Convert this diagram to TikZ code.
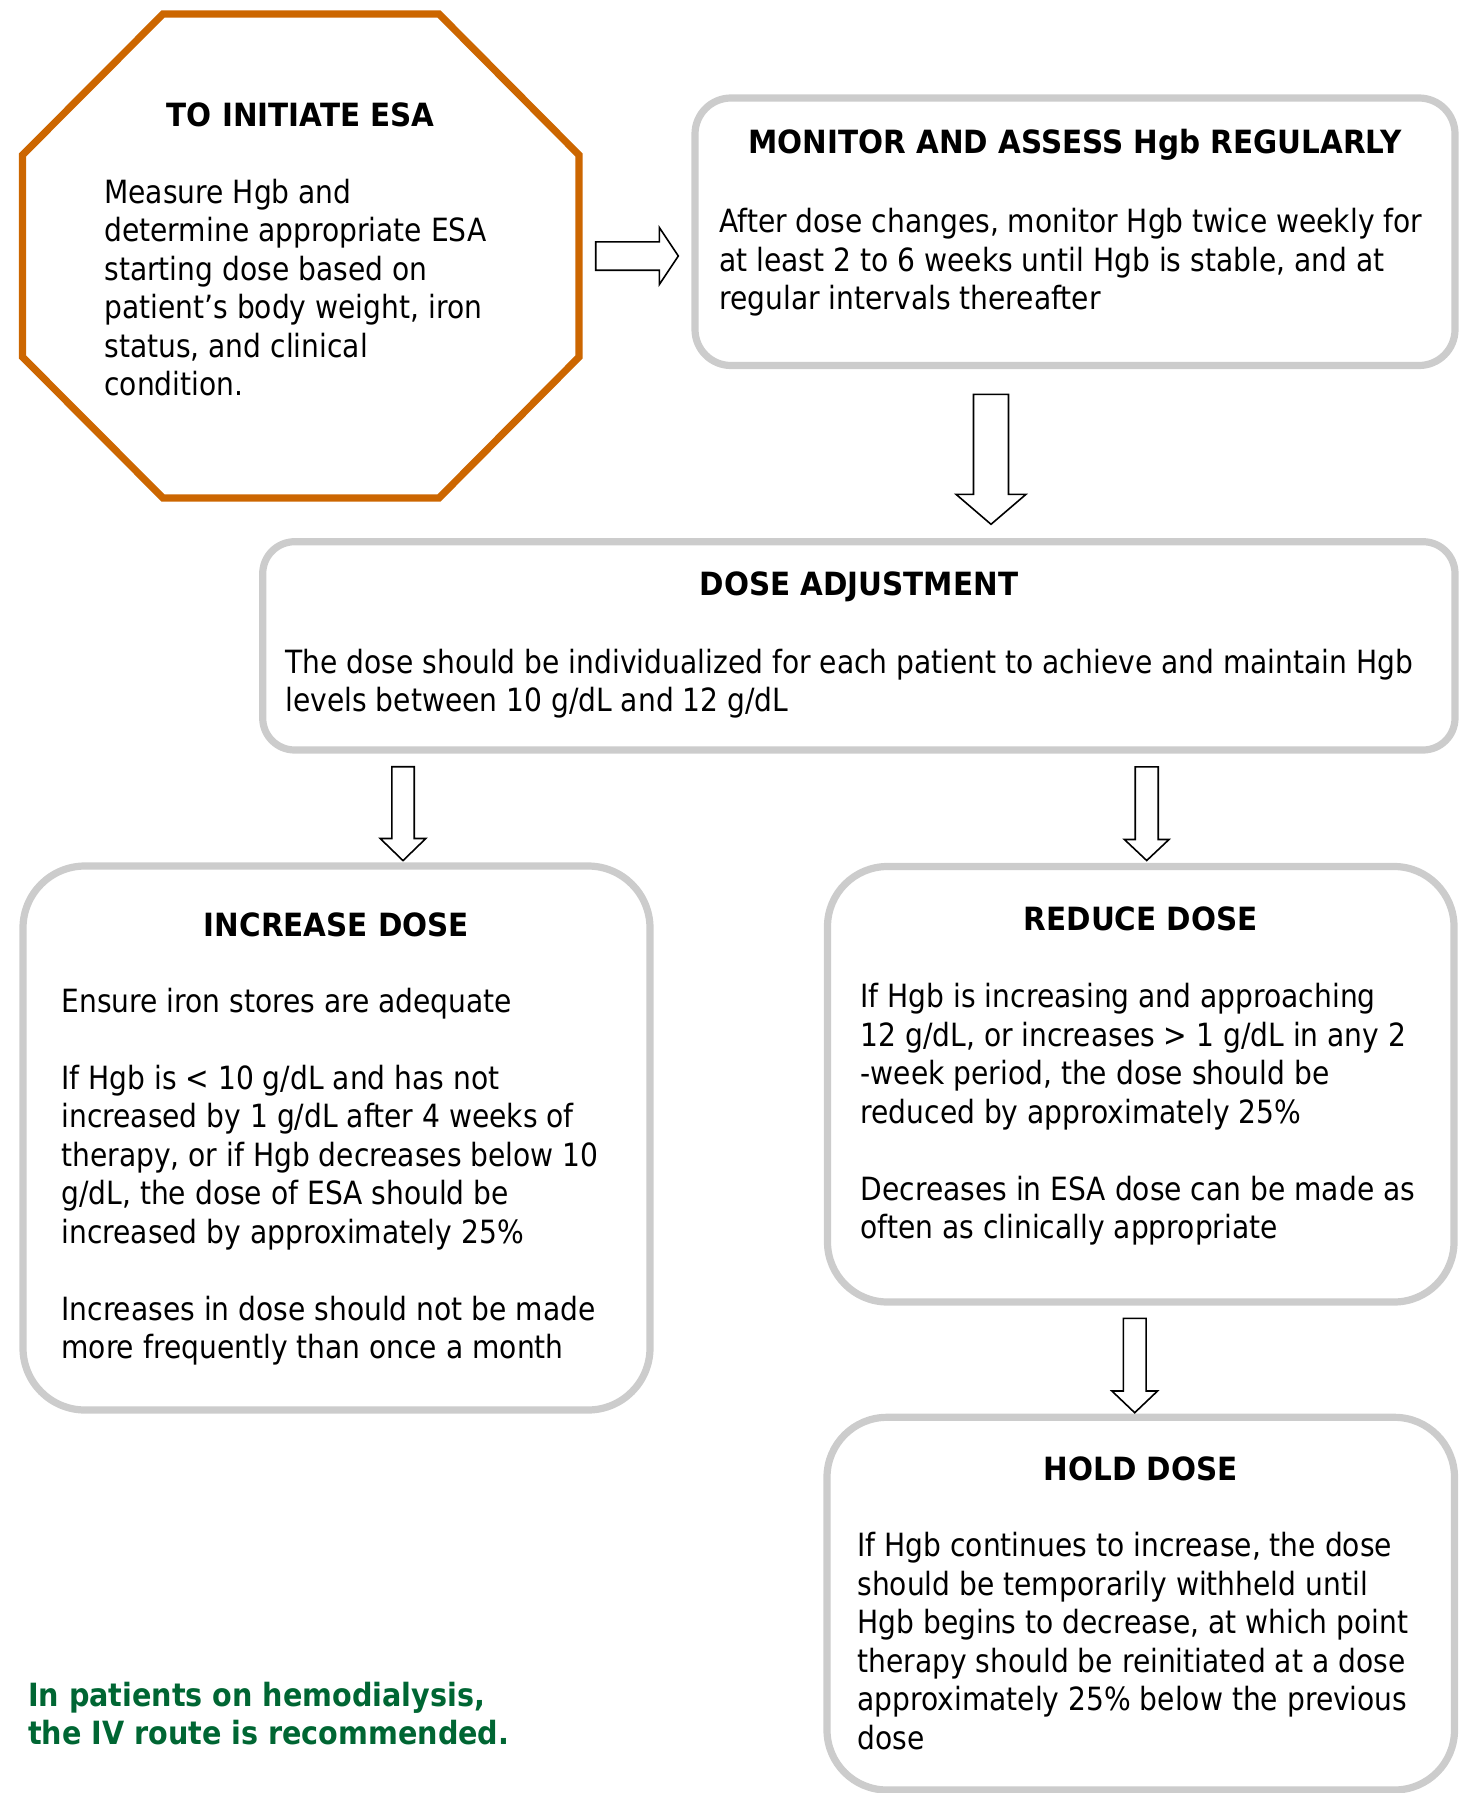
\documentclass[tikz,border=0pt]{standalone}
\usepackage{fontspec}
\setmainfont{DejaVu Sans}[FakeStretch=0.879]
\newfontfamily\boldf{DejaVu Sans}[FakeStretch=0.92]
\newfontfamily\notef{DejaVu Sans}[FakeStretch=0.895]
\definecolor{octorange}{HTML}{CC6600}
\definecolor{boxgray}{HTML}{CCCCCC}
\definecolor{notegreen}{HTML}{006633}
\newcommand{\dnarrow}[6]{%
  \draw[blockarrow] ({#1-#5},#2) -- ({#1+#5},#2) -- ({#1+#5},#3) -- ({#1+#6},#3)
    -- (#1,#4) -- ({#1-#6},#3) -- ({#1-#5},#3) -- cycle;}
\begin{document}
\begin{tikzpicture}[x=0.5pt,y=-0.5pt,
  txt/.style={inner sep=0pt, font=\fontsize{16}{19.25}\selectfont},
  body/.style={txt, anchor=base west},
  title/.style={inner sep=0pt, anchor=base, font=\fontsize{16}{19.25}\selectfont\boldf\bfseries},
  note/.style={inner sep=0pt, anchor=base west, text=notegreen, font=\fontsize{16}{19.25}\selectfont\notef\bfseries},
  rbox/.style={draw=boxgray, line width=3.6pt, fill=white, inner sep=0pt},
  blockarrow/.style={draw=black, line width=0.8pt, fill=white, line join=miter}]
\useasboundingbox (0,0) rectangle (1474,1793);

% octagon
\draw[draw=octorange, line width=3.6pt, line join=miter]
  (163,14) -- (439,14) -- (579,155) -- (579,357) -- (439,498) -- (163,498)
  -- (22.5,357) -- (22.5,155) -- cycle;
\coordinate (oct) at (300.75,256);
\node[title] (octT) at (300.75,126.7) {TO INITIATE ESA};
\node[body] (octB) at (104,203.3) {\vtop{\hbox{Measure Hgb and}\hbox{determine appropriate ESA}\hbox{starting dose based on}\hbox{patient’s body weight, iron}\hbox{status, and clinical}\hbox{condition.}}};

% boxes
\node[rbox, minimum width=380pt, minimum height=133.75pt, rounded corners=18pt] (mon) at (1075,231.75) {};
\node[rbox, minimum width=596.15pt, minimum height=104.15pt, rounded corners=16pt] (dose) at (858.85,645.85) {};
\node[rbox, minimum width=313.5pt, minimum height=272pt, rounded corners=31pt] (inc) at (336.5,1138) {};
\node[rbox, minimum width=313.25pt, minimum height=217.75pt, rounded corners=30pt] (red) at (1140.75,1084.25) {};
\node[rbox, minimum width=313.75pt, minimum height=186.35pt, rounded corners=30pt] (hold) at (1140.75,1603.65) {};

% titles
\node[title] (monT) at (1075,154) {MONITOR AND ASSESS Hgb REGULARLY};
\node[title] (doseT) at (858.85,595) {DOSE ADJUSTMENT};
\node[title] (incT) at (336.5,936) {INCREASE DOSE};
\node[title] (redT) at (1140.75,930.2) {REDUCE DOSE};
\node[title] (holdT) at (1140.75,1480) {HOLD DOSE};

% bodies
\node[body] (monB) at (719,232.5) {\vtop{\hbox{After dose changes, monitor Hgb twice weekly for}\hbox{at least 2 to 6 weeks until Hgb is stable, and at}\hbox{regular intervals thereafter}}};
\node[body] (doseB) at (285,673) {\vtop{\hbox{The dose should be individualized for each patient to achieve and maintain Hgb}\hbox{levels between 10 g/dL and 12 g/dL}}};
\node[body] (incB) at (61,1012.3) {\vtop{\hbox{Ensure iron stores are adequate}\hbox{}\hbox{If Hgb is < 10 g/dL and has not}\hbox{increased by 1 g/dL after 4 weeks of}\hbox{therapy, or if Hgb decreases below 10}\hbox{g/dL, the dose of ESA should be}\hbox{increased by approximately 25\%}\hbox{}\hbox{Increases in dose should not be made}\hbox{more frequently than once a month}}};
\node[body] (redB) at (860.2,1007.9) {\vtop{\hbox{If Hgb is increasing and approaching}\hbox{12 g/dL, or increases > 1 g/dL in any 2}\hbox{-week period, the dose should be}\hbox{reduced by approximately 25\%}\hbox{}\hbox{Decreases in ESA dose can be made as}\hbox{often as clinically appropriate}}};
\node[body] (holdB) at (857,1556.7) {\vtop{\hbox{If Hgb continues to increase, the dose}\hbox{should be temporarily withheld until}\hbox{Hgb begins to decrease, at which point}\hbox{therapy should be reinitiated at a dose}\hbox{approximately 25\% below the previous}\hbox{dose}}};
\node[note] (noteB) at (27.6,1706) {\vtop{\hbox{In patients on hemodialysis,}\hbox{the IV route is recommended.}}};

% block arrows
\draw[blockarrow] (595.7,241.8) -- (659.3,241.8) -- (659.3,227.5) -- (678.3,256)
  -- (659.3,284.5) -- (659.3,270.2) -- (595.7,270.2) -- cycle;
\dnarrow{991}{394.3}{494.3}{524.3}{17.5}{35}
\dnarrow{403}{766.7}{838.5}{860.6}{11.2}{22.8}
\dnarrow{1146.7}{766.8}{839.5}{860.5}{11.5}{22.3}
\dnarrow{1134.7}{1318.3}{1391}{1412.7}{11.4}{22.8}
\end{tikzpicture}
\end{document}
